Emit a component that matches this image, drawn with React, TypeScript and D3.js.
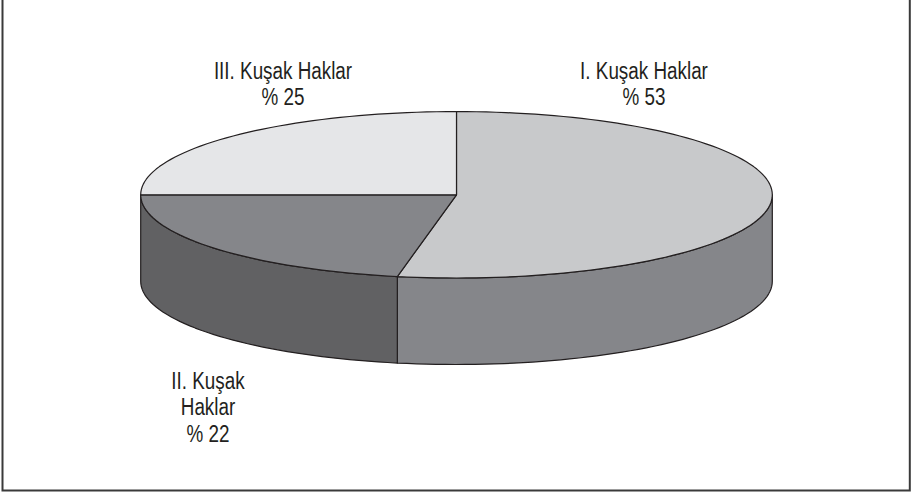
import React from "react";
import * as d3 from "d3";

const categories = ["I. Kuşak Haklar", "II. Kuşak Haklar", "III. Kuşak Haklar"];
const values = [53, 22, 25];
const labelLines = [
  ["I. Kuşak Haklar", "% 53"],
  ["II. Kuşak", "Haklar", "% 22"],
  ["III. Kuşak Haklar", "% 25"],
];
const topColors = ["#c8c9cb", "#85868a", "#e5e6e8"];
const sideColors = ["#85868a", "#616163", "#e5e6e8"];

const W = 911;
const H = 494;
const cx = 456.5;
const cy = 194.8;
const rx = 315.8;
const ry = 83.2;
const depth = 86.5;
const stroke = "#231f20";

const pt = (a: number, dy = 0): [number, number] => [cx + rx * Math.sin(a), cy - ry * Math.cos(a) + dy];

function topPath(a0: number, a1: number) {
  const p = d3.path();
  p.moveTo(cx, cy);
  const [x0, y0] = pt(a0);
  p.lineTo(x0, y0);
  const n = Math.max(8, Math.ceil(((a1 - a0) / (2 * Math.PI)) * 200));
  for (let i = 1; i <= n; i++) {
    const [x, y] = pt(a0 + ((a1 - a0) * i) / n);
    p.lineTo(x, y);
  }
  p.closePath();
  return p.toString();
}

function sidePath(a0: number, a1: number) {
  const s = Math.max(a0, Math.PI / 2);
  const e = Math.min(a1, (3 * Math.PI) / 2);
  if (e <= s) return null;
  const n = Math.max(8, Math.ceil(((e - s) / (2 * Math.PI)) * 200));
  const p = d3.path();
  const [x0, y0] = pt(s);
  p.moveTo(x0, y0);
  for (let i = 1; i <= n; i++) {
    const [x, y] = pt(s + ((e - s) * i) / n);
    p.lineTo(x, y);
  }
  for (let i = n; i >= 0; i--) {
    const [x, y] = pt(s + ((e - s) * i) / n, depth);
    p.lineTo(x, y);
  }
  p.closePath();
  return p.toString();
}

const labelPos: [number, number][] = [
  [644, 79],
  [208, 389],
  [283, 79],
];

export default function App() {
  const arcs = d3
    .pie<number>()
    .sort(null)
    .value((d) => d)(values);

  return (
    <svg
      width={W}
      height={H}
      style={{ position: "absolute", left: 0, top: 0, background: "#fff" }}
      fontFamily="'Liberation Sans', Arial, sans-serif"
    >
      <rect x={0} y={0} width={W} height={H} fill="#fff" />
      <path
        d={`M2.5,-5 L2.5,490.5 L909.8,490.5 L909.8,-5`}
        fill="none"
        stroke="#3a3a3a"
        strokeWidth={2}
      />
      {arcs.map((a, i) => {
        const d = sidePath(a.startAngle, a.endAngle);
        return d ? (
          <path key={"s" + i} d={d} fill={sideColors[i]} stroke={stroke} strokeWidth={1.2} strokeLinejoin="round" />
        ) : null;
      })}
      {arcs.map((a, i) => (
        <path key={"t" + i} d={topPath(a.startAngle, a.endAngle)} fill={topColors[i]} stroke={stroke} strokeWidth={1.2} strokeLinejoin="round" />
      ))}
      {categories.map((c, i) => (
        <g key={c} transform={`translate(${labelPos[i][0]},${labelPos[i][1]}) scale(0.82,1)`}>
          <text x={0} y={0} textAnchor="middle" fontSize={23} fill="#231f20">
            {labelLines[i].map((l, j) => (
              <tspan key={j} x={0} dy={j === 0 ? 0 : 26.5}>
                {l}
              </tspan>
            ))}
          </text>
        </g>
      ))}
    </svg>
  );
}
